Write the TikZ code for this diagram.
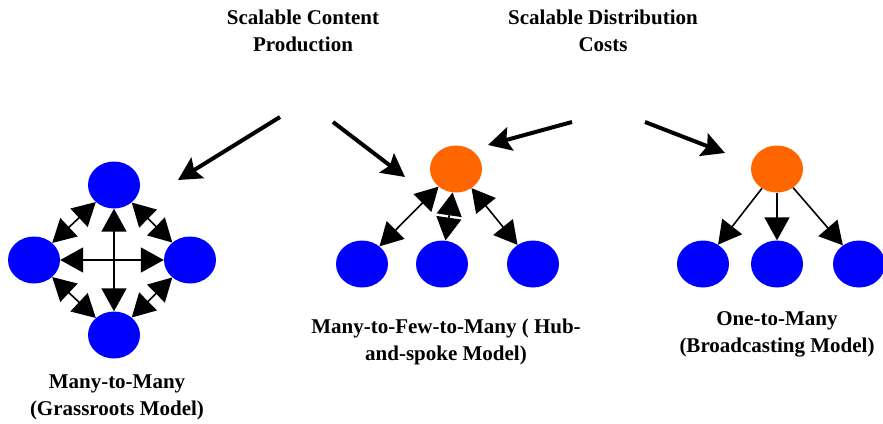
\documentclass[tikz,border=0pt]{standalone}
\usepackage{fontspec}
\setmainfont{Liberation Serif}
\usetikzlibrary{arrows.meta,shapes.geometric}
\definecolor{dotblue}{RGB}{0,0,255}
\definecolor{huborange}{RGB}{255,102,0}
\tikzset{
  member/.style={ellipse, fill=dotblue, minimum width=52pt, minimum height=47pt, inner sep=0pt},
  centre/.style={member, fill=huborange},
  modeltext/.style={align=center, font=\bfseries\fontsize{21}{27}\selectfont},
  link/.style={line width=1.6pt, -{Triangle[length=23pt,width=25pt]}},
  twolink/.style={line width=1.6pt, {Triangle[length=23pt,width=25pt]}-{Triangle[length=23pt,width=25pt]}},
  push/.style={line width=4pt, -{Stealth[length=23pt,width=24pt,inset=4pt]}}
}
\begin{document}
\begin{tikzpicture}[x=1pt,y=-1pt]
		%%%%% START %%%%%
		\useasboundingbox[fill=white] (0,0) rectangle (883,423);
		
		% titles
		\node[modeltext] (tprod) at (303,31) {Scalable Content\\Production};
		\node[modeltext] (tdist) at (603,31) {Scalable Distribution\\Costs};
		
		% many-to-many
		\node[member] (gtop) at (114,185) {};
		\node[member] (gleft) at (34,260) {};
		\node[member] (gright) at (190,260) {};
		\node[member] (gbot) at (114,335) {};
		\draw[twolink] (gtop) -- (gleft);
		\draw[twolink] (gtop) -- (gright);
		\draw[twolink] (gbot) -- (gleft);
		\draw[twolink] (gbot) -- (gright);
		\draw[twolink] (gleft) -- (gright);
		\draw[twolink] (gtop) -- (gbot);
		\node[modeltext] (lgrass) at (117,397) {Many-to-Many\\(Grassroots Model)};
		
		% hub and spoke
		\node[centre] (hub) at (456,169) {};
		\node[member] (hleft) at (362,264) {};
		\node[member] (hmid) at (442,264) {};
		\node[member] (hright) at (533,264) {};
		\draw[twolink] (hub) -- (hleft);
		\draw[twolink] (hub) -- (hmid);
		\draw[twolink] (hub) -- (hright);
		\node[modeltext] (lhub) at (446,342) {Many-to-Few-to-Many ( Hub-\\and-spoke Model)};
		
		% broadcasting
		\node[centre] (bcast) at (777,169) {};
		\node[member] (bleft) at (703,264) {};
		\node[member] (bmid) at (777,264) {};
		\node[member] (bright) at (859,264) {};
		\draw[link] (bcast) -- (bleft);
		\draw[link] (bcast) -- (bmid);
		\draw[link] (bcast) -- (bright);
		\node[modeltext] (lbcast) at (777,334) {One-to-Many\\(Broadcasting Model)};
		
		% title arrows
		\coordinate (p1) at (280,117);
		\coordinate (p2) at (333,122);
		\coordinate (p3) at (572,122);
		\coordinate (p4) at (645,122);
		\draw[push] (p1) -- (178,180);
		\draw[push] (p2) -- (405,177);
		\draw[push] (p3) -- (488,145);
		\draw[push] (p4) -- (725,153);
		%%%%% END %%%%%
\end{tikzpicture}
\end{document}
